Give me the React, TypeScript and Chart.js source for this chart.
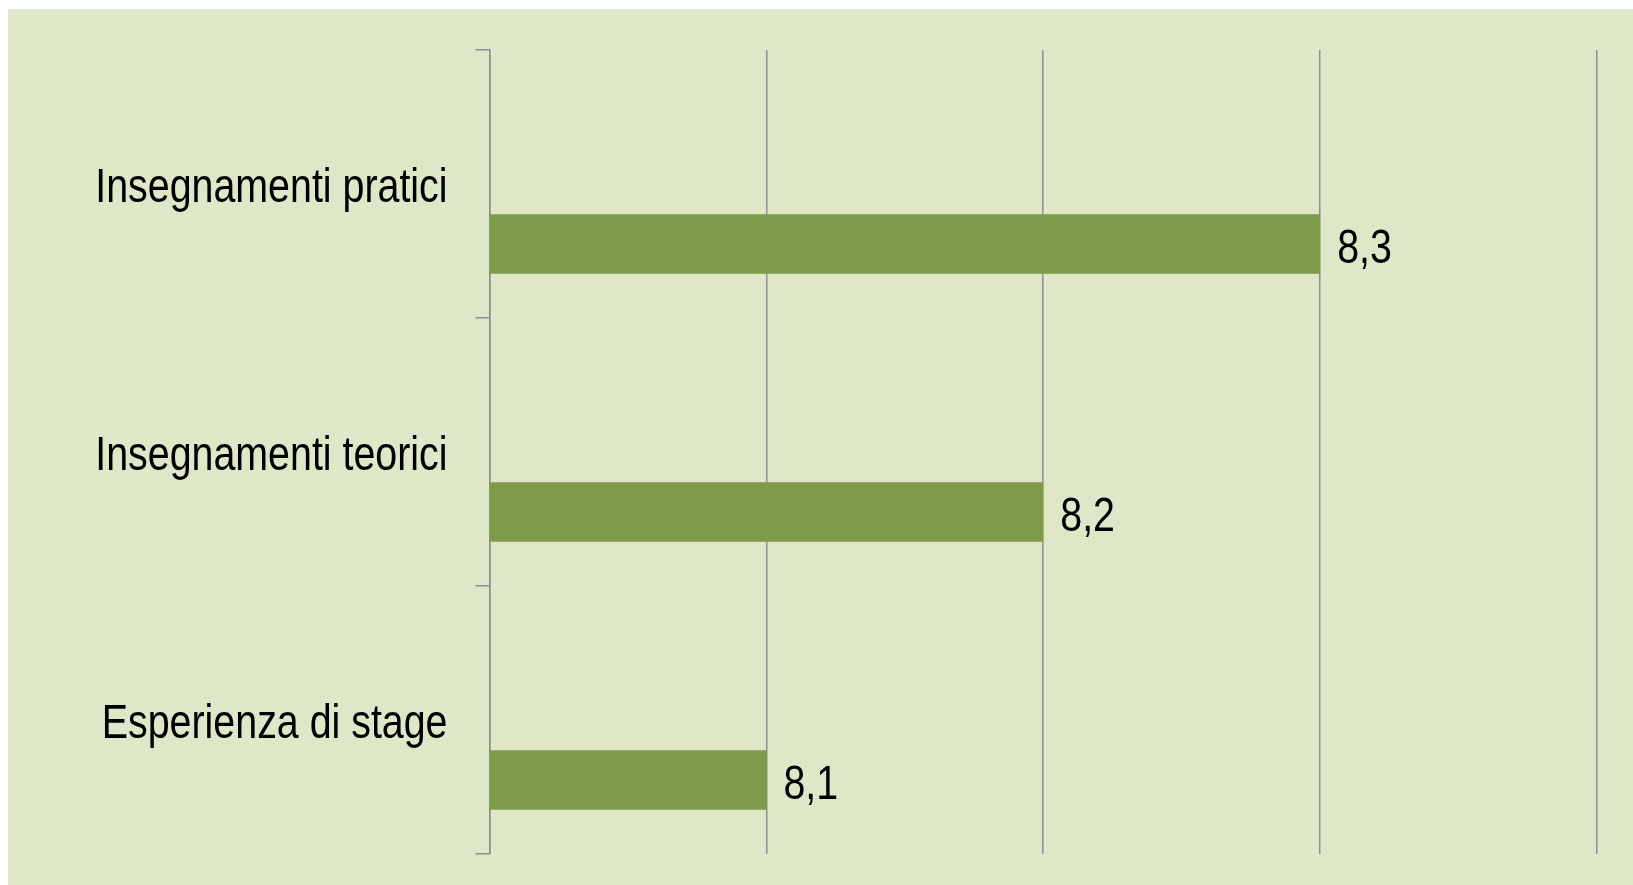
import React, { useEffect, useRef } from "react";
import { Chart, registerables } from "chart.js";

Chart.register(...registerables);

const categories = ["Insegnamenti pratici", "Insegnamenti teorici", "Esperienza di stage"];
const spacerValues: (number | null)[] = [null, null, null];
const scoreValues = [8.3, 8.2, 8.1];
const axisMin = 8.0;
const axisMax = 8.4;
const axisStep = 0.1;

const FONT = "'Liberation Sans', Arial, sans-serif";
const FONT_SIZE = 48;
const NARROW = 0.82;
const BG = "#DFE7C9";
const BAR = "#7F9A48";
const GRID = "#8F8F8F";

const W = 1625;
const H = 876;
const TICK_LEN = 14;
const LABEL_PAD = 28;

function drawNarrow(ctx: CanvasRenderingContext2D, txt: string, x: number, y: number, align: CanvasTextAlign) {
  ctx.save();
  ctx.translate(x, y);
  ctx.scale(NARROW, 1);
  ctx.textAlign = align;
  ctx.textBaseline = "middle";
  ctx.fillText(txt, 0, 0);
  ctx.restore();
}

const narrowText = {
  id: "narrowText",
  afterDatasetsDraw(chart: any) {
    const ctx = chart.ctx as CanvasRenderingContext2D;
    const yScale = chart.scales.y;
    ctx.save();
    ctx.fillStyle = "#000000";
    ctx.font = `${FONT_SIZE}px ${FONT}`;
    // category labels
    const labelX = yScale.right - TICK_LEN - LABEL_PAD;
    categories.forEach((c, i) => {
      drawNarrow(ctx, c, labelX, yScale.getPixelForTick(i) + 5, "right");
    });
    // value labels
    const meta = chart.getDatasetMeta(1);
    meta.data.forEach((el: any, i: number) => {
      const txt = scoreValues[i].toFixed(1).replace(".", ",");
      drawNarrow(ctx, txt, el.x + 17, el.y + 6, "left");
    });
    ctx.restore();
  },
};

export default function App() {
  const ref = useRef<HTMLCanvasElement | null>(null);

  useEffect(() => {
    if (!ref.current) return;
    const chart = new Chart(ref.current, {
      type: "bar",
      data: {
        labels: categories,
        datasets: [
          {
            data: spacerValues as any,
            backgroundColor: BAR,
            categoryPercentage: 0.895,
            barPercentage: 0.497,
          },
          {
            data: scoreValues,
            backgroundColor: BAR,
            categoryPercentage: 0.895,
            barPercentage: 0.497,
          },
        ],
      },
      options: {
        indexAxis: "y",
        responsive: false,
        animation: false,
        layout: { padding: { left: 0, top: 41, right: 36, bottom: 31 } },
        plugins: {
          legend: { display: false },
          tooltip: { enabled: false },
        },
        scales: {
          x: {
            type: "linear",
            min: axisMin,
            max: axisMax,
            ticks: { display: false, stepSize: axisStep },
            grid: { color: GRID, lineWidth: 1.5, drawTicks: false },
            border: { display: false },
            afterFit: (scale: any) => {
              scale.height = 0;
              scale.paddingLeft = 0;
              scale.paddingRight = 0;
              scale.paddingTop = 0;
              scale.paddingBottom = 0;
            },
          },
          y: {
            type: "category",
            offset: true,
            grid: {
              offset: true,
              drawOnChartArea: false,
              drawTicks: true,
              tickLength: TICK_LEN,
              color: GRID,
              lineWidth: 1.5,
            },
            border: { display: true, color: GRID, width: 1.5 },
            ticks: { display: false },
            afterFit: (scale: any) => {
              scale.width = 481.5;
              scale.paddingLeft = 0;
              scale.paddingRight = 0;
              scale.paddingTop = 0;
              scale.paddingBottom = 0;
            },
          },
        },
      },
      plugins: [narrowText],
    });
    return () => chart.destroy();
  }, []);

  return (
    <div
      style={{
        position: "fixed",
        left: 8,
        top: 9,
        width: W,
        height: H,
        background: BG,
      }}
    >
      <canvas ref={ref} width={W} height={H} style={{ display: "block" }} />
    </div>
  );
}
